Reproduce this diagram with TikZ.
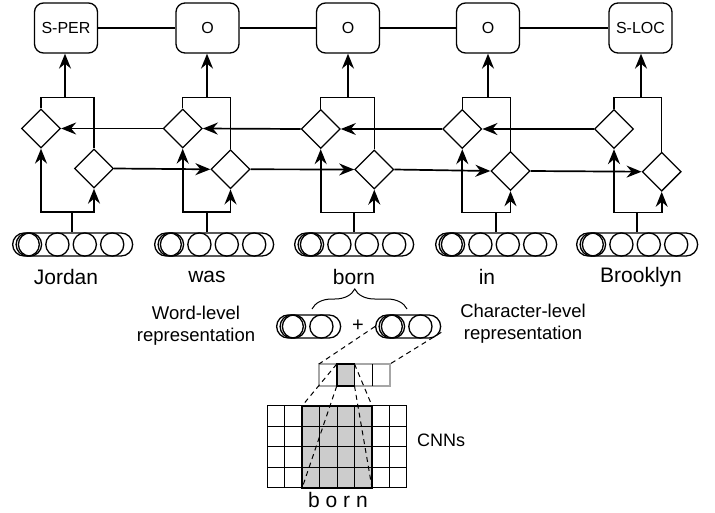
\documentclass[tikz,border=0pt]{standalone}
\usepackage{fontspec}
\setmainfont{Liberation Sans}
\usetikzlibrary{shapes.geometric,arrows.meta,decorations.pathreplacing}
\newcommand{\embvec}[5]{%
  \node[capsule, minimum width=#5pt, anchor=west] (#1) at (#2,#3) {};
  \draw (#2+15.7,#3) circle[radius=11.6pt];
  \foreach \k in {1,...,#4} {\draw ({#2+18+27.4*(\k-1)},#3) circle[radius=11.6pt];}
}
\begin{document}
\begin{tikzpicture}[x=1pt,y=-1pt,line width=1.3pt,
  tag/.style={draw, rounded corners=9pt, minimum width=63pt, minimum height=50pt, inner sep=0pt, font=\fontsize{16}{18}\selectfont},
  cell/.style={draw, diamond, aspect=1, minimum width=39pt, minimum height=39pt, inner sep=0pt},
  arr/.style={-{Stealth[length=15pt,width=12pt,inset=5pt]}, line width=1.7pt},
  capsule/.style={draw, rectangle, rounded corners=11.5pt, minimum height=23pt, inner sep=0pt},
  word/.style={font=\fontsize{21}{24}\selectfont, inner sep=0pt},
  note/.style={font=\fontsize{18.5}{22}\selectfont, align=center, inner sep=0pt},
  dsh/.style={line width=1pt, dash pattern=on 5pt off 4pt}]
\useasboundingbox (0,0) rectangle (715,512);

% tag boxes
\node[tag] (b1) at (66,28) {S-PER};
\node[tag] (b2) at (207.5,28) {O};
\node[tag] (b3) at (348,28) {O};
\node[tag] (b4) at (488,28) {O};
\node[tag] (b5) at (640.5,28) {S-LOC};
\draw (b1.east) -- (b2.west);
\draw (b2.east) -- (b3.west);
\draw (b3.east) -- (b4.west);
\draw (b4.east) -- (b5.west);

% LSTM cells
\node[cell] (u1) at (41,128.5) {};
\node[cell] (d1) at (94,168.5) {};
\node[cell] (u2) at (182.7,128.5) {};
\node[cell] (d2) at (230.5,169.3) {};
\node[cell] (u3) at (320.7,129) {};
\node[cell] (d3) at (374.3,169.5) {};
\node[cell] (u4) at (462.3,129) {};
\node[cell] (d4) at (510.5,171) {};
\node[cell] (u5) at (614,129) {};
\node[cell] (d5) at (661.7,171.7) {};

% bracket tops and bottoms
\coordinate (t1) at (65,97.5);
\coordinate (t2) at (207,97.5);
\coordinate (t3) at (348,97.5);
\coordinate (t4) at (488,97.5);
\coordinate (t5) at (641,97.5);
\coordinate (m1) at (72,212);
\coordinate (m2) at (207,212);
\coordinate (m3) at (354,212.5);
\coordinate (m4) at (496,212.5);
\coordinate (m5) at (637,212.5);

\foreach \i in {1,...,5} {
  \draw (u\i.north) |- (t\i) -| (d\i.north);
  \draw[arr] (t\i) -- (t\i |- b\i.south);
  \draw[arr] (m\i) -| (u\i.south);
  \draw[arr] (m\i) -| (d\i.south);
}

% recurrent arrows
\draw[arr] (u2.west) -- (u1.east);
\draw[arr] (u3.west) -- (u2.east);
\draw[arr] (u4.west) -- (u3.east);
\draw[arr] (u5.west) -- (u4.east);
\draw[arr] (d1.east) -- (d2.west);
\draw[arr] (d2.east) -- (d3.west);
\draw[arr] (d3.east) -- (d4.west);
\draw[arr] (d4.east) -- (d5.west);

% word embeddings
\embvec{e1}{12}{244.5}{4}{120}
\embvec{e2}{154}{244.5}{4}{119}
\embvec{e3}{294}{244.5}{4}{119}
\embvec{e4}{435}{244.5}{4}{121}
\embvec{e5}{576}{244.5}{4}{121}
\foreach \i in {1,...,5} {\draw (m\i) -- (m\i |- e\i.north);}

% words
\node[word] (w1) at (66,277) {Jordan};
\node[word] (w2) at (207,277) {was};
\node[word] (w3) at (354,277) {born};
\node[word] (w4) at (487,277) {in};
\node[word] (w5) at (641,277) {Brooklyn};

% brace and representation
\draw[line width=1pt, decorate, decoration={brace, amplitude=20pt, aspect=0.45}] (312,309) -- (407,309);
\embvec{el}{276}{326.5}{2}{64}
\embvec{ec}{375}{326.5}{2}{65}
\node[font=\fontsize{20}{22}\selectfont, inner sep=0pt] (plus) at (358,326) {+};
\node[note] (wl) at (196,326) {Word-level\\representation};
\node[note] (cl) at (523,324) {Character-level\\representation};

% strip
\coordinate (sTL) at (319,364);
\coordinate (sTR) at (390,364);
\coordinate (gTL) at (336.75,364);
\coordinate (gTR) at (354.5,364);
\coordinate (gBL) at (336.75,386);
\coordinate (gBR) at (354.5,386);
\draw[gray!70, line width=1.2pt] (sTL) rectangle (390,386);
\draw[line width=1.2pt] (372.25,364) -- (372.25,386);
\draw[fill=gray!40, line width=1.8pt] (gTL) rectangle (gBR);

% CNN grid
\coordinate (rTL) at (302.2,405.7);
\coordinate (rTR) at (372,405.7);
\coordinate (rBL) at (302.2,487.7);
\coordinate (rBR) at (372,487.7);
\fill[gray!40] (rTL) rectangle (rBR);
\foreach \i in {0,...,8} {\draw[line width=1pt] ({267.3+17.43*\i},405.7) -- ({267.3+17.43*\i},487.7);}
\foreach \j in {0,...,4} {\draw[line width=1pt] (267.3,{405.7+20.5*\j}) -- (406.7,{405.7+20.5*\j});}
\draw[line width=2pt] (rTL) rectangle (rBR);
\node[font=\fontsize{18}{20}\selectfont, inner sep=0pt, anchor=west] (cnn) at (416.5,440) {CNNs};
\node[font=\fontsize{21}{24}\selectfont, inner sep=0pt] (chars) at (338,500) {b o r n};

% dashed projections
\draw[dsh] (ec.west) -- (sTL);
\draw[dsh] (ec.-10) -- (sTR);
\draw[dsh] (gTL) -- (rTL);
\draw[dsh] (gTR) -- (rTR);
\draw[dsh] (gBL) -- (rBL);
\draw[dsh] (gBR) -- (rBR);
\end{tikzpicture}
\end{document}
